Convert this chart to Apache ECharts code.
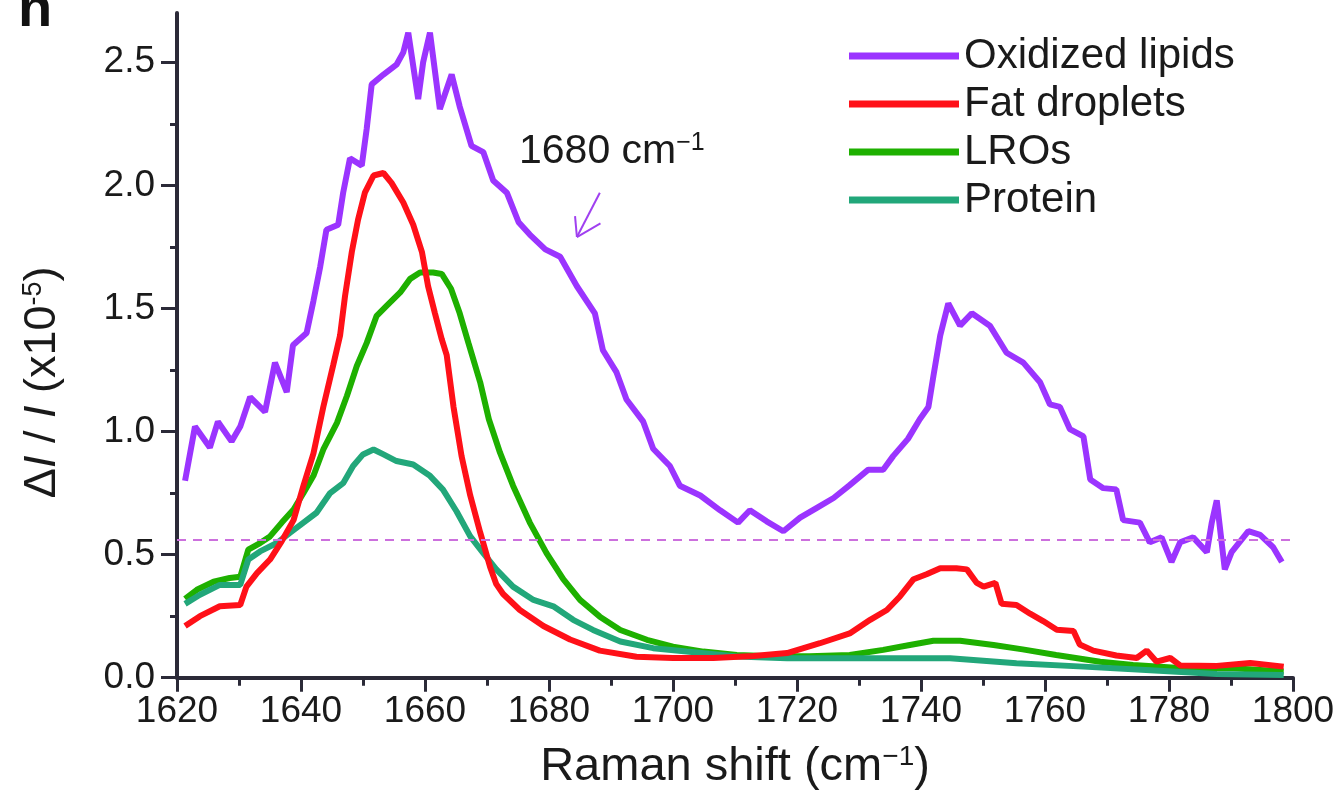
<!DOCTYPE html>
<html>
<head>
<meta charset="utf-8">
<style>
  html, body { margin: 0; padding: 0; background: #fff; }
  #chart { width: 1338px; height: 796px; }
</style>
<script src="https://cdn.jsdelivr.net/npm/echarts@6/dist/echarts.min.js"></script>
</head>
<body>
<div id="chart"></div>
<script>
// Raman difference spectra ([shift, dI/I x1e-5])
const seriesNames = ['Oxidized lipids', 'Fat droplets', 'LROs', 'Protein'];

const oxidizedLipids = [
  [1621.3,0.80],[1622.9,1.02],[1625.3,0.935],[1626.6,1.04],[1628.8,0.96],[1630.2,1.02],[1631.8,1.14],
  [1634.2,1.08],[1635.8,1.28],[1637.7,1.16],[1638.7,1.35],[1640.9,1.40],[1642.0,1.53],[1643.1,1.67],
  [1644.1,1.82],[1646.0,1.84],[1646.8,1.97],[1647.9,2.11],[1649.8,2.08],[1650.6,2.23],[1651.4,2.41],
  [1653.3,2.45],[1655.4,2.49],[1656.5,2.54],[1657.3,2.62],[1658.9,2.35],[1659.7,2.50],[1660.8,2.62],
  [1662.4,2.31],[1664.3,2.45],[1665.6,2.32],[1667.5,2.16],[1669.4,2.135],[1671.0,2.02],[1673.2,1.97],
  [1675.1,1.85],[1676.9,1.80],[1679.4,1.74],[1681.8,1.71],[1684.5,1.59],[1687.4,1.48],[1688.7,1.33],
  [1690.9,1.24],[1692.5,1.13],[1695.2,1.04],[1696.8,0.93],[1699.5,0.86],[1701.1,0.78],[1704.4,0.74],
  [1707.6,0.68],[1710.5,0.63],[1712.4,0.68],[1715.1,0.635],[1717.8,0.595],[1720.5,0.65],[1723.2,0.69],
  [1725.9,0.73],[1728.4,0.78],[1731.5,0.845],[1733.9,0.845],[1735.5,0.90],[1737.9,0.97],[1739.8,1.05],
  [1741.2,1.10],[1742.0,1.225],[1743.1,1.39],[1744.4,1.52],[1746.3,1.43],[1748.2,1.48],[1751.1,1.43],
  [1753.8,1.32],[1756.5,1.28],[1759.2,1.20],[1760.8,1.11],[1762.4,1.10],[1764.0,1.01],[1766.2,0.98],
  [1767.3,0.805],[1769.4,0.77],[1771.5,0.765],[1772.6,0.64],[1775.3,0.63],[1776.9,0.55],[1778.8,0.57],
  [1780.4,0.47],[1781.8,0.55],[1783.9,0.57],[1786.1,0.51],[1786.9,0.63],[1787.7,0.72],[1789.0,0.44],
  [1790.1,0.51],[1792.8,0.595],[1794.7,0.58],[1796.8,0.53],[1798.2,0.47]
];

const fatDroplets = [
  [1621.3,0.21],[1623.7,0.25],[1626.9,0.29],[1630.2,0.295],[1631.2,0.37],[1632.9,0.425],[1635.0,0.48],
  [1636.9,0.555],[1638.8,0.64],[1640.4,0.78],[1642.0,0.91],[1643.6,1.10],[1645.2,1.27],[1646.3,1.39],
  [1647.1,1.55],[1648.2,1.73],[1649.2,1.86],[1650.3,1.97],[1651.7,2.04],[1653.3,2.05],[1654.6,2.01],
  [1656.5,1.93],[1658.1,1.84],[1659.5,1.73],[1660.5,1.59],[1661.6,1.48],[1662.7,1.375],[1663.5,1.31],
  [1664.6,1.10],[1665.9,0.90],[1667.3,0.74],[1668.9,0.59],[1670.5,0.45],[1671.5,0.38],[1672.6,0.34],
  [1675.3,0.275],[1679.1,0.21],[1683.4,0.155],[1688.2,0.11],[1694.1,0.085],[1700.0,0.08],[1706.5,0.08],
  [1713.0,0.088],[1718.4,0.10],[1723.7,0.14],[1728.5,0.18],[1731.8,0.235],[1734.5,0.275],[1736.6,0.33],
  [1738.8,0.40],[1740.9,0.42],[1743.1,0.445],[1745.7,0.445],[1747.4,0.44],[1749.0,0.385],[1750.1,0.37],
  [1752.0,0.385],[1753.0,0.30],[1755.4,0.295],[1757.6,0.26],[1759.7,0.23],[1761.9,0.195],[1764.6,0.19],
  [1765.6,0.135],[1767.8,0.11],[1771.5,0.09],[1774.8,0.08],[1776.4,0.11],[1778.0,0.065],[1780.2,0.08],
  [1781.8,0.05],[1787.7,0.048],[1793.1,0.06],[1798.5,0.045]
];

const lros = [
  [1621.3,0.32],[1623.2,0.357],[1625.9,0.39],[1628.5,0.405],[1630.2,0.41],[1631.5,0.52],[1633.4,0.547],
  [1635.0,0.574],[1636.9,0.63],[1638.8,0.683],[1640.4,0.75],[1642.0,0.82],[1643.6,0.927],[1645.8,1.035],
  [1647.4,1.144],[1649.0,1.266],[1650.6,1.36],[1652.2,1.47],[1653.8,1.51],[1656.0,1.565],[1657.6,1.62],
  [1659.2,1.646],[1661.3,1.646],[1662.7,1.64],[1664.2,1.58],[1665.6,1.48],[1667.0,1.36],[1668.9,1.20],
  [1670.3,1.05],[1672.1,0.914],[1674.2,0.78],[1676.9,0.63],[1679.6,0.506],[1682.3,0.40],[1685.0,0.316],
  [1688.2,0.248],[1691.5,0.194],[1695.8,0.154],[1700.0,0.126],[1704.9,0.106],[1710.3,0.092],[1716.0,0.087],
  [1722.0,0.087],[1728.5,0.092],[1733.9,0.113],[1738.2,0.133],[1742.0,0.15],[1746.3,0.15],[1751.7,0.133],
  [1756.4,0.115],[1761.8,0.092],[1768.9,0.065],[1774.2,0.052],[1782.3,0.038],[1790.4,0.038],[1798.5,0.025]
];

const protein = [
  [1621.3,0.30],[1623.7,0.337],[1626.9,0.377],[1630.2,0.377],[1631.5,0.48],[1633.4,0.513],[1636.1,0.547],
  [1638.2,0.588],[1640.4,0.63],[1642.5,0.67],[1644.7,0.75],[1646.8,0.79],[1648.4,0.86],[1650.0,0.907],
  [1651.7,0.927],[1653.3,0.907],[1655.4,0.88],[1658.1,0.866],[1660.8,0.82],[1662.9,0.764],[1665.1,0.675],
  [1667.3,0.574],[1669.4,0.506],[1671.5,0.44],[1674.2,0.37],[1677.5,0.316],[1680.7,0.29],[1683.9,0.235],
  [1687.1,0.194],[1691.5,0.147],[1696.8,0.12],[1702.2,0.106],[1710.3,0.086],[1718.4,0.079],[1729.0,0.079],
  [1744.7,0.079],[1755.4,0.059],[1766.2,0.045],[1777.0,0.03],[1787.7,0.015],[1798.5,0.011]
];

// reference level (dashed) and axis ticks
const baselineLevel = 0.555;
const yMajorTicks = [0, 0.5, 1.0, 1.5, 2.0, 2.5];
const yMinorTicks = [0.25, 0.75, 1.25, 1.75, 2.25];

const colors = {
  'Oxidized lipids': '#9b34ff',
  'Fat droplets': '#ff1018',
  'LROs': '#1eb000',
  'Protein': '#22a77a'
};

const FONT = '"Liberation Sans", Arial, Helvetica, sans-serif';
const AXIS_COLOR = '#2b2a38';

const chart = echarts.init(document.getElementById('chart'));

function lineSeries(name, data, extra) {
  return Object.assign({
    name: name,
    type: 'line',
    data: data,
    showSymbol: false,
    symbol: 'none',
    smooth: false,
    lineStyle: { color: colors[name], width: 6 },
    itemStyle: { color: colors[name] },
    emphasis: { disabled: true },
    animation: false
  }, extra || {});
}

const option = {
  backgroundColor: '#fff',
  textStyle: { fontFamily: FONT },
  grid: { left: 177, right: 45, top: 13, bottom: 118.3, containLabel: false },
  legend: {
    data: seriesNames,
    orient: 'vertical',
    left: 844,
    top: 27,
    icon: 'rect',
    itemWidth: 110,
    itemHeight: 7,
    itemGap: 0,
    selectedMode: false,
    textStyle: { fontSize: 42, color: '#1a1a1a', fontFamily: FONT, lineHeight: 48 }
  },
  xAxis: {
    type: 'value',
    min: 1620,
    max: 1800,
    interval: 20,
    name: 'Raman shift (cm{sup|−1})',
    nameLocation: 'middle',
    nameGap: 66,
    nameTextStyle: {
      fontSize: 47, color: '#1a1a1a', fontFamily: FONT,
      rich: { sup: { fontSize: 28, verticalAlign: 'top', color: '#1a1a1a', fontFamily: FONT } }
    },
    axisLine: { onZero: false, lineStyle: { color: AXIS_COLOR, width: 4 } },
    axisTick: { inside: false, length: 14, lineStyle: { color: AXIS_COLOR, width: 3 } },
    minorTick: { show: true, splitNumber: 2, length: 8, lineStyle: { color: AXIS_COLOR, width: 3 } },
    axisLabel: { fontSize: 37, color: '#1a1a1a', margin: 16, fontFamily: FONT, formatter: v => String(v) },
    splitLine: { show: false }
  },
  yAxis: [
    {
      type: 'value',
      min: 0,
      max: 2.7,
      interval: 0.5,
      name: 'Δ{i|I} / {i|I} (x10{sup|-5})',
      nameLocation: 'middle',
      nameRotate: 90,
      nameGap: 112,
      nameTextStyle: {
        fontSize: 45, color: '#1a1a1a', fontFamily: FONT,
        padding: [0, 74, 0, 0],
        rich: {
          i: { fontSize: 45, fontStyle: 'italic', color: '#1a1a1a', fontFamily: FONT },
          sup: { fontSize: 27, verticalAlign: 'top', color: '#1a1a1a', fontFamily: FONT }
        }
      },
      axisLine: { show: true, onZero: false, lineStyle: { color: AXIS_COLOR, width: 4 } },
      axisTick: { show: true, length: 16, customValues: yMajorTicks, lineStyle: { color: AXIS_COLOR, width: 3 } },
      axisLabel: {
        fontSize: 37, color: '#1a1a1a', margin: 22, fontFamily: FONT,
        customValues: yMajorTicks,
        formatter: v => v.toFixed(1)
      },
      splitLine: { show: false }
    },
    {
      // second copy of the scale only to draw the short minor ticks
      type: 'value',
      min: 0,
      max: 2.7,
      position: 'left',
      axisLine: { show: false },
      axisTick: { show: true, length: 7, customValues: yMinorTicks, lineStyle: { color: AXIS_COLOR, width: 3 } },
      axisLabel: { show: false },
      splitLine: { show: false }
    }
  ],
  graphic: [
    {
      type: 'text',
      left: 18,
      top: -17,
      style: { text: 'n', fontSize: 56, fontWeight: 'bold', fill: '#111', fontFamily: FONT }
    },
    {
      type: 'text',
      left: 519,
      top: 131,
      style: {
        text: '1680 cm{sup|−1}',
        fontSize: 41,
        fill: '#1a1a1a',
        fontFamily: FONT,
        rich: { sup: { fontSize: 25, verticalAlign: 'top', fill: '#1a1a1a', fontFamily: FONT } }
      }
    }
  ],
  series: [
    lineSeries('Oxidized lipids', oxidizedLipids, {
      markLine: {
        silent: true,
        symbol: ['none', 'none'],
        label: { show: false },
        animation: false,
        data: [
          { yAxis: baselineLevel, lineStyle: { color: '#cc70dd', type: [9, 7], width: 2 } },
          // arrow pointing at the 1680 cm-1 shoulder
          [{ coord: [1688.2, 1.97], lineStyle: { color: '#a040f0', type: 'solid', width: 2 } }, { coord: [1684.5, 1.79] }],
          [{ coord: [1684.5, 1.79], lineStyle: { color: '#a040f0', type: 'solid', width: 2 } }, { coord: [1684.2, 1.875] }],
          [{ coord: [1684.5, 1.79], lineStyle: { color: '#a040f0', type: 'solid', width: 2 } }, { coord: [1688.3, 1.845] }]
        ]
      }
    }),
    lineSeries('LROs', lros),
    lineSeries('Protein', protein),
    lineSeries('Fat droplets', fatDroplets)
  ]
};

chart.setOption(option);
window.addEventListener('resize', () => chart.resize());
</script>
</body>
</html>
